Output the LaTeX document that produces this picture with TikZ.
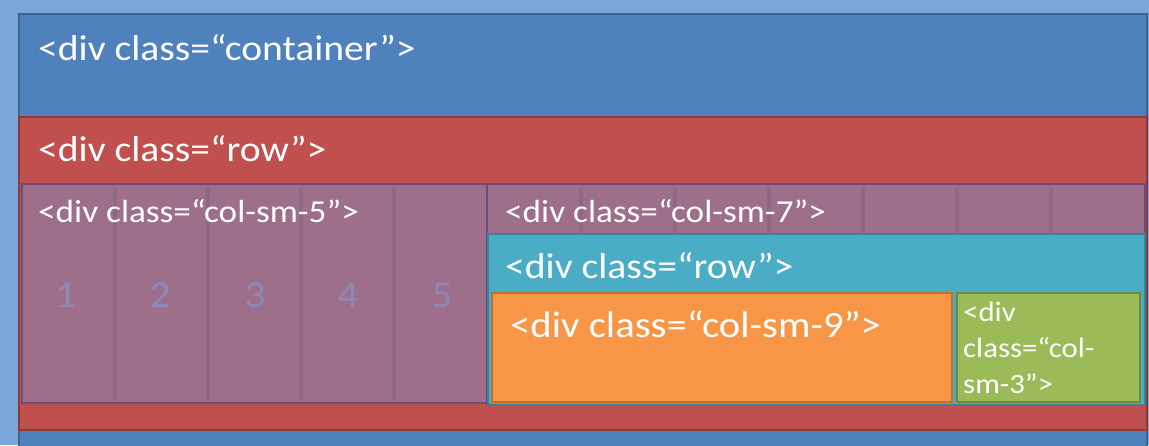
\documentclass[tikz,border=0pt]{standalone}
\usepackage{fontspec}
\setmainfont{Carlito}[FakeStretch=1.1]
\definecolor{bgblue}{HTML}{7AA6DA}
\definecolor{ctfill}{HTML}{4F81BD}
\definecolor{ctline}{HTML}{3A6496}
\definecolor{rowfill}{HTML}{C0504D}
\definecolor{rowline}{HTML}{8E3A38}
\definecolor{colfill}{HTML}{9D6F8A}
\definecolor{colline}{HTML}{6B4C7E}
\definecolor{gridline}{HTML}{8F6886}
\definecolor{numcol}{HTML}{8F88B6}
\definecolor{nestfill}{HTML}{4BACC6}
\definecolor{nestline}{HTML}{3A8299}
\definecolor{ninefill}{HTML}{F79646}
\definecolor{nineline}{HTML}{C46F2C}
\definecolor{threefill}{HTML}{9BBB59}
\definecolor{threeline}{HTML}{6F8A3C}
\tikzset{
  box/.style={line width=2.5pt},
  lbl/.style={anchor=base west, inner sep=0pt, text=white},
  big/.style={lbl, font=\fontsize{36}{40}\selectfont},
  wide/.style={lbl, font=\fontsize{37}{41}\selectfont},
  small/.style={lbl, font=\fontsize{32}{36}\selectfont},
  tiny/.style={lbl, font=\fontsize{28}{36}\selectfont, align=left},
  num/.style={anchor=base, inner sep=0pt, text=numcol, font=\fontsize{38}{42}\selectfont},
  grid/.style={gridline, line width=4pt}
}
\begin{document}
\begin{tikzpicture}[x=1pt,y=-1pt]
\useasboundingbox (0,0) rectangle (1149,445);
\clip (0,0) rectangle (1149,445);
\fill[bgblue] (0,0) rectangle (1149,445);
% outer container
\filldraw[box, fill=ctfill, draw=ctline] (19,14) rectangle (1147,470);
\node[big] (container) at (38,60) {<div class=“container”>};
% outer row
\filldraw[box, fill=rowfill, draw=rowline] (19,117) rectangle (1147,430);
\node[big] (row) at (38,161) {<div class=“row”>};
% col-sm-5 with its five grid columns
\filldraw[box, fill=colfill, draw=colline] (22,184) rectangle (487,403);
\foreach \gx in {115,208,301,394} \draw[grid] (\gx,187) -- (\gx,400);
\foreach \n/\nx in {1/66,2/160,3/255,4/348,5/442}
  \node[num] (n\n) at (\nx,307) {\n};
\node[small] (colfive) at (38,222) {<div class=“col-sm-5”>};
% col-sm-7
\filldraw[box, fill=colfill, draw=colline] (487,184) rectangle (1145,405);
\foreach \gx in {581,675,769,863,957,1051} \draw[grid] (\gx,187) -- (\gx,233);
\node[small] (colseven) at (505,222) {<div class=“col-sm-7”>};
% nested row
\filldraw[box, fill=nestfill, draw=nestline] (488,234) rectangle (1145,405);
\node[big] (nestrow) at (505,278) {<div class=“row”>};
% col-sm-9
\filldraw[box, fill=ninefill, draw=nineline] (492,293) rectangle (952,402);
\node[wide] (colnine) at (510,337) {<div class=“col-sm-9”>};
% col-sm-3
\filldraw[box, fill=threefill, draw=threeline] (957,293) rectangle (1140,402);
\node[tiny] (colthree) at (963,393) {<div\\class=“col-\\sm-3”>};
\end{tikzpicture}
\end{document}
